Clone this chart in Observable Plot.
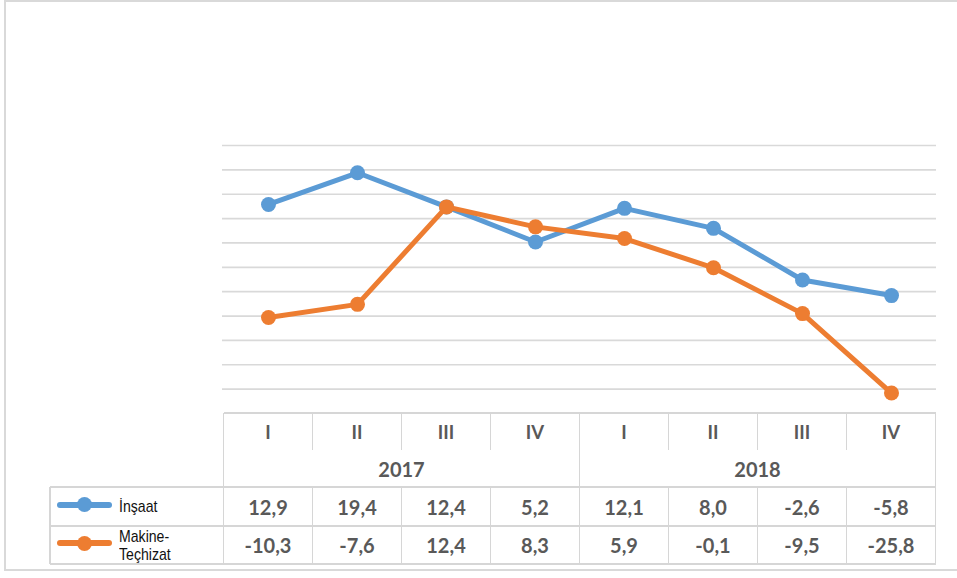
<!DOCTYPE html>
<html>
<head>
<meta charset="utf-8">
<script src="https://cdn.jsdelivr.net/npm/d3@7"></script>
<script src="https://cdn.jsdelivr.net/npm/@observablehq/plot@0.6"></script>
<style>
  html, body { margin: 0; padding: 0; background: #fff; overflow: hidden; }
  #wrap { position: relative; width: 957px; height: 578px; overflow: hidden; background: #fff; }
  #frame { position: absolute; left: 4px; top: 0px; width: 980px; height: 571px; border: 2px solid #d9d9d9; box-sizing: border-box; }
  #chart { position: absolute; left: 0; top: 0; }
  .ln { position: absolute; background: #d6d6d6; }
  .cell { position: absolute; display: flex; align-items: center; justify-content: center;
          font-family: Lato, "Open Sans", sans-serif; font-weight: 700; color: #595959; }
  .leg { position: absolute; display: flex; align-items: center; font-family: "Liberation Sans", Arial, sans-serif;
         font-size: 15px; color: #111; line-height: 17px; }
  .leg span { display: inline-block; transform: scale(0.94, 1.08); transform-origin: left center; }
  .sym-line { position: absolute; height: 6px; border-radius: 3px; }
  .sym-dot { position: absolute; width: 15px; height: 15px; border-radius: 50%; }
</style>
</head>
<body>
<div id="wrap"><div id="frame"></div><div id="chart"></div></div>
<script>
// ---- data ----
const years = ["2017", "2018"];
const quarterLabels = ["I", "II", "III", "IV"];
const insaat = [12.9, 19.4, 12.4, 5.2, 12.1, 8.0, -2.6, -5.8];
const makine = [-10.3, -7.6, 12.4, 8.3, 5.9, -0.1, -9.5, -25.8];
const seriesNames = ["İnşaat", "Makine-\nTeçhizat"];
const seriesColors = ["#5b9bd5", "#ed7d31"];
const gridValues = [-25, -20, -15, -10, -5, 0, 5, 10, 15, 20, 25];

const periods = years.flatMap(y => quarterLabels.map(q => `${y}-${q}`));
const rowsIns = periods.map((p, i) => ({period: p, value: insaat[i]}));
const rowsMak = periods.map((p, i) => ({period: p, value: makine[i]}));

const plot = Plot.plot({
  width: 957,
  height: 414,
  marginLeft: 222,
  marginRight: 21,
  marginTop: 145,
  marginBottom: 1,
  x: {type: "point", domain: periods, padding: 0.5, axis: null},
  y: {domain: [-30, 25], axis: null},
  marks: [
    Plot.ruleY(gridValues, {stroke: "#d9d9d9", strokeWidth: 1.7}),
    Plot.line(rowsIns, {x: "period", y: "value", stroke: seriesColors[0], strokeWidth: 5, strokeLinejoin: "round", strokeLinecap: "round"}),
    Plot.dot(rowsIns, {x: "period", y: "value", r: 7.5, fill: seriesColors[0], stroke: "none"}),
    Plot.line(rowsMak, {x: "period", y: "value", stroke: seriesColors[1], strokeWidth: 5, strokeLinejoin: "round", strokeLinecap: "round"}),
    Plot.dot(rowsMak, {x: "period", y: "value", r: 7.5, fill: seriesColors[1], stroke: "none"})
  ]
});
plot.style.background = "transparent";
document.getElementById("chart").appendChild(plot);

// ---- data table below the plot ----
const wrap = document.getElementById("wrap");
const xs = plot.scale("x");
const cx = periods.map(p => xs.apply(p));
const step = cx[1] - cx[0];
const left = cx[0] - step / 2;
const right = cx[cx.length - 1] + step / 2;
const legLeft = 50;
const yTop = 413, yYear = 450, yR1 = 487, yR2 = 526, yBot = 564;
const lw = 1.5;

function hline(x1, x2, y) {
  const d = document.createElement("div"); d.className = "ln";
  Object.assign(d.style, {left: x1 + "px", top: (y - lw / 2) + "px", width: (x2 - x1) + "px", height: lw + "px"});
  wrap.appendChild(d);
}
function vline(x, y1, y2) {
  const d = document.createElement("div"); d.className = "ln";
  Object.assign(d.style, {left: (x - lw / 2) + "px", top: y1 + "px", width: lw + "px", height: (y2 - y1) + "px"});
  wrap.appendChild(d);
}
function cell(text, x1, x2, y1, y2, size) {
  const d = document.createElement("div"); d.className = "cell";
  Object.assign(d.style, {left: x1 + "px", top: y1 + "px", width: (x2 - x1) + "px", height: (y2 - y1) + "px", fontSize: size + "px"});
  d.textContent = text;
  wrap.appendChild(d);
}
const fmt = v => v.toFixed(1).replace(".", ",");

hline(left, right, yTop);
hline(legLeft, right, yR1);
hline(legLeft, right, yR2);
hline(legLeft, right, yBot);
vline(left, yTop, yBot);
vline(right, yTop, yBot);
vline(legLeft, yR1, yBot);
for (let i = 1; i < periods.length; i++) {
  const x = cx[i] - step / 2;
  if (i % quarterLabels.length === 0) vline(x, yTop, yBot);
  else { vline(x, yTop, yYear); vline(x, yR1, yBot); }
}
periods.forEach((p, i) => {
  const x1 = cx[i] - step / 2, x2 = cx[i] + step / 2;
  cell(quarterLabels[i % quarterLabels.length], x1, x2, yTop, yYear, 18.5);
  cell(fmt(insaat[i]), x1, x2, yR1, yR2, 20);
  cell(fmt(makine[i]), x1, x2, yR2, yBot, 20);
});
years.forEach((y, j) => {
  const x1 = cx[j * 4] - step / 2, x2 = cx[j * 4 + 3] + step / 2;
  cell(y, x1, x2, yYear, yR1, 20);
});

// legend column
[[yR1, yR2], [yR2, yBot]].forEach(([y1, y2], k) => {
  const mid = (y1 + y2) / 2 - 2;
  const l = document.createElement("div"); l.className = "sym-line";
  Object.assign(l.style, {left: "57px", width: "55px", top: (mid - 3) + "px", background: seriesColors[k]});
  wrap.appendChild(l);
  const c = document.createElement("div"); c.className = "sym-dot";
  Object.assign(c.style, {left: (84.5 - 7.5) + "px", top: (mid - 7.5) + "px", background: seriesColors[k]});
  wrap.appendChild(c);
  const t = document.createElement("div"); t.className = "leg";
  Object.assign(t.style, {left: "119px", top: y1 + "px", height: (y2 - y1) + "px", width: "100px"});
  const s = document.createElement("span");
  s.innerHTML = seriesNames[k].split("\n").join("<br>");
  t.appendChild(s);
  wrap.appendChild(t);
});
</script>
</body>
</html>
